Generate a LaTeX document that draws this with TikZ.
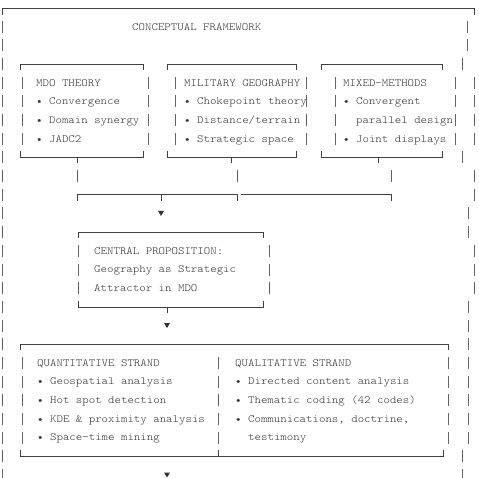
\documentclass[tikz,border=0pt]{standalone}
\usepackage{fontspec}
\setmonofont{lmmonolt10-regular.otf}[FakeStretch=1.12]
\newcommand\yr[1]{(8+18.68*#1)}
\newcommand\vs[2]{\draw[vb] (#1,{\yr{#2}-6}) -- (#1,{\yr{#2}+6});}
\newcommand\downtri[2]{\fill[black!80] (#1-3,{#2-2.5}) -- (#1+3,{#2-2.5}) -- (#1,{#2+2.5}) -- cycle;}
\begin{document}
\begin{tikzpicture}[x=1pt,y=-1pt,
  ln/.style={line width=0.7pt, draw=black!75},
  vb/.style={line width=0.6pt, draw=black!60},
  txt/.style={anchor=west, inner sep=0pt, text height=6.7pt, text depth=0pt,
    font=\ttfamily\fontsize{10.97}{12}\selectfont, text=black!80}]
\useasboundingbox[fill=white] (0,0) rectangle (479,478);

% ---------- outer frame ----------
\draw[ln] (2,15) -- (2,8) -- (474,8) -- (474,15);
\foreach \i in {1,...,25} {\vs{2}{\i}}
\foreach \i/\x in {1/467,2/467,3/462,4/474,5/474,6/474,7/474,8/462,9/474,10/474,
  11/468,12/468,13/474,14/474,15/474,16/468,17/468,18/468,19/468,20/468,21/468,
  22/468,23/468,24/462,25/462} {\vs{\x}{\i}}
\node[txt] (title) at (132,{\yr{1}}) {CONCEPTUAL FRAMEWORK};

% ---------- box 1: MDO theory ----------
\draw[ln] (20,{\yr{3}+6}) -- (20,{\yr{3}}) -- (143,{\yr{3}}) -- (143,{\yr{3}+6});
\draw[ln] (20,{\yr{8}-6}) -- (20,{\yr{8}}) -- (143,{\yr{8}}) -- (143,{\yr{8}-6});
\foreach \i in {4,...,7} {\vs{22}{\i}\vs{148}{\i}}
\node[txt] (mdo0) at (36,{\yr{4}}) {MDO THEORY};
\node[txt] (mdo1) at (36,{\yr{5}}) {• Convergence};
\node[txt] (mdo2) at (36,{\yr{6}}) {• Domain synergy};
\node[txt] (mdo3) at (36,{\yr{7}}) {• JADC2};

% ---------- box 2: military geography ----------
\draw[ln] (167,{\yr{3}+6}) -- (167,{\yr{3}}) -- (296,{\yr{3}}) -- (296,{\yr{3}+6});
\draw[ln] (167,{\yr{8}-6}) -- (167,{\yr{8}}) -- (296,{\yr{8}}) -- (296,{\yr{8}-6});
\foreach \i in {4,...,7} {\vs{175}{\i}\vs{306}{\i}}
\node[txt] (geo0) at (184,{\yr{4}}) {MILITARY GEOGRAPHY};
\node[txt] (geo1) at (184,{\yr{5}}) {• Chokepoint theory};
\node[txt] (geo2) at (184,{\yr{6}}) {• Distance/terrain};
\node[txt] (geo3) at (184,{\yr{7}}) {• Strategic space};

% ---------- box 3: mixed methods ----------
\draw[ln] (321,{\yr{3}+6}) -- (321,{\yr{3}}) -- (442,{\yr{3}}) -- (442,{\yr{3}+6});
\draw[ln] (321,{\yr{8}-6}) -- (321,{\yr{8}}) -- (442,{\yr{8}}) -- (442,{\yr{8}-6});
\foreach \i in {4,...,7} {\vs{335}{\i}\vs{455}{\i}}
\node[txt] (mm0) at (343,{\yr{4}}) {MIXED-METHODS};
\node[txt] (mm1) at (343,{\yr{5}}) {• Convergent};
\node[txt] (mm2) at (356,{\yr{6}}) {parallel design};
\node[txt] (mm3) at (343,{\yr{7}}) {• Joint displays};

% ---------- merging connectors ----------
\coordinate (d1) at (77,{\yr{8}});
\coordinate (d2) at (231,{\yr{8}});
\coordinate (d3) at (378,{\yr{8}});
\coordinate (j1) at (77,{\yr{10}});
\coordinate (j2) at (237,{\yr{10}});
\coordinate (j3) at (241,{\yr{10}});
\coordinate (j4) at (391,{\yr{10}});
\coordinate (jm) at (161,{\yr{10}});
\draw[ln] (d1) -- ++(0,6);
\draw[ln] (d2) -- ++(0,6);
\draw[ln] (d3) -- ++(0,6);
\vs{77}{9}\vs{237}{9}\vs{391}{9}
\draw[ln] ([yshift=-6pt]j1) -- (j1) -- (j2) -- ([yshift=-6pt]j2);
\draw[ln] (j3) -- (j4) -- ([yshift=-6pt]j4);
\draw[ln] (jm) -- ++(0,6);
\downtri{161}{\yr{11}}

% ---------- central proposition ----------
\draw[ln] (78,{\yr{12}+6}) -- (78,{\yr{12}}) -- (263,{\yr{12}}) -- (263,{\yr{12}+6});
\draw[ln] (78,{\yr{16}-6}) -- (78,{\yr{16}}) -- (263,{\yr{16}}) -- (263,{\yr{16}-6});
\foreach \i in {13,...,15} {\vs{78}{\i}\vs{269}{\i}}
\node[txt] (cp0) at (94,{\yr{13}}) {CENTRAL PROPOSITION:};
\node[txt] (cp1) at (94,{\yr{14}}) {Geography as Strategic};
\node[txt] (cp2) at (94,{\yr{15}}) {Attractor in MDO};
\coordinate (c1) at (167,{\yr{16}});
\draw[ln] (c1) -- ++(0,6);
\downtri{167}{\yr{17}}

% ---------- strands ----------
\draw[ln] (20,{\yr{18}+6}) -- (20,{\yr{18}}) -- (448,{\yr{18}}) -- (448,{\yr{18}+6});
\draw[ln] (20,{\yr{24}-6}) -- (20,{\yr{24}}) -- (443,{\yr{24}}) -- (443,{\yr{24}-6});
\draw[ln] (218,{\yr{24}}) -- (218,{\yr{24}-6});
\foreach \i in {19,...,23} {\vs{22}{\i}\vs{218}{\i}\vs{448}{\i}}
\node[txt] (qn0) at (37,{\yr{19}}) {QUANTITATIVE STRAND};
\node[txt] (qn1) at (37,{\yr{20}}) {• Geospatial analysis};
\node[txt] (qn2) at (37,{\yr{21}}) {• Hot spot detection};
\node[txt] (qn3) at (37,{\yr{22}}) {• KDE \& proximity analysis};
\node[txt] (qn4) at (37,{\yr{23}}) {• Space-time mining};
\node[txt] (ql0) at (235,{\yr{19}}) {QUALITATIVE STRAND};
\node[txt] (ql1) at (235,{\yr{20}}) {• Directed content analysis};
\node[txt] (ql2) at (235,{\yr{21}}) {• Thematic coding (42 codes)};
\node[txt] (ql3) at (235,{\yr{22}}) {• Communications, doctrine,};
\node[txt] (ql4) at (248,{\yr{23}}) {testimony};
\downtri{167}{\yr{25}}
\end{tikzpicture}
\end{document}
